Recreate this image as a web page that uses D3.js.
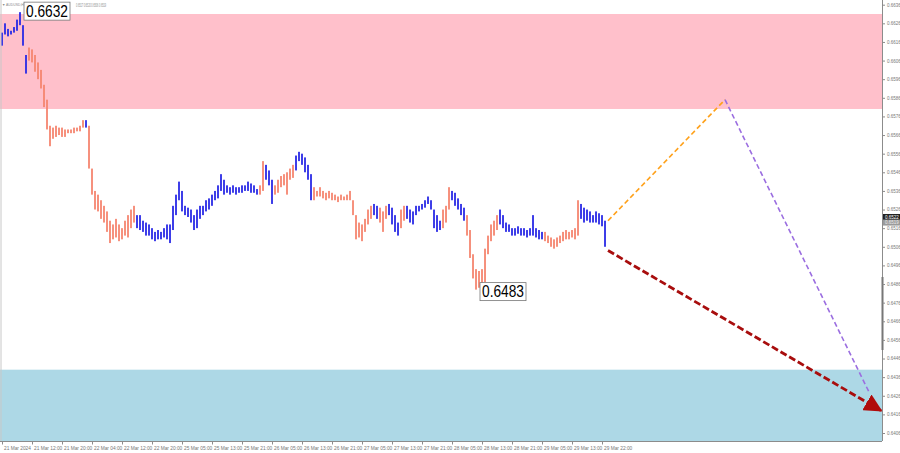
<!DOCTYPE html>
<html><head><meta charset="utf-8">
<script src="https://cdn.jsdelivr.net/npm/d3@7"></script>
<style>html,body{margin:0;padding:0;background:#fff;overflow:hidden}</style>
</head><body><svg id="c" width="900" height="453"></svg>
<script>
// ---- data ----
const symbolName = "AUDUSD,H1";
const headerPrices = "0.6517 0.6520 0.6506 0.6519";
const timeLabels = ["21 Mar 2024","21 Mar 12:00","21 Mar 20:00","22 Mar 04:00","22 Mar 12:00","22 Mar 20:00","25 Mar 05:00","25 Mar 13:00","25 Mar 21:00","26 Mar 05:00","26 Mar 13:00","26 Mar 21:00","27 Mar 05:00","27 Mar 13:00","27 Mar 21:00","28 Mar 05:00","28 Mar 13:00","28 Mar 21:00","29 Mar 05:00","29 Mar 13:00","29 Mar 22:00"];
const timeLabelIndex = [0,10,20,30,40,50,60,70,80,90,100,110,120,130,140,150,160,170,180,190,200];
const priceTicks = [0.6636,0.6626,0.6616,0.6606,0.6596,0.6586,0.6576,0.6566,0.6556,0.6546,0.6536,0.6526,0.6516,0.6506,0.6496,0.6486,0.6476,0.6466,0.6456,0.6446,0.6436,0.6426,0.6416,0.6406];
const highs = [0.6621,0.6626,0.6623,0.6622,0.6624,0.6628,0.6632,0.6625,0.6609,0.6613,
0.6612,0.6609,0.6605,0.6601,0.6593,0.6585,0.6571,0.6570,0.6571,0.6570,
0.6570,0.6569,0.6569,0.6569,0.6570,0.6570,0.6571,0.6574,0.6574,0.6571,
0.6548,0.6536,0.6534,0.6531,0.6528,0.6525,0.6520,0.6518,0.6521,0.6518,
0.6516,0.6520,0.6523,0.6526,0.6528,0.6523,0.6523,0.6520,0.6519,0.6518,
0.6516,0.6514,0.6515,0.6514,0.6516,0.6518,0.6518,0.6528,0.6534,0.6541,
0.6536,0.6528,0.6527,0.6526,0.6523,0.6526,0.6528,0.6528,0.6531,0.6532,
0.6534,0.6536,0.6539,0.6545,0.6542,0.6539,0.6538,0.6539,0.6538,0.6538,
0.6539,0.6539,0.6541,0.6540,0.6539,0.6537,0.6539,0.6552,0.6550,0.6547,
0.6542,0.6539,0.6542,0.6544,0.6545,0.6546,0.6548,0.6550,0.6555,0.6557,
0.6556,0.6554,0.6550,0.6545,0.6538,0.6536,0.6538,0.6536,0.6535,0.6536,
0.6535,0.6534,0.6533,0.6534,0.6533,0.6534,0.6536,0.6531,0.6523,0.6519,
0.6518,0.6521,0.6526,0.6528,0.6529,0.6528,0.6527,0.6525,0.6528,0.6529,
0.6527,0.6523,0.6519,0.6526,0.6528,0.6528,0.6526,0.6525,0.6528,0.6528,
0.6529,0.6531,0.6533,0.6531,0.6526,0.6523,0.6520,0.6526,0.6528,0.6538,
0.6536,0.6535,0.6532,0.6529,0.6527,0.6523,0.6515,0.6502,0.6494,0.6493,
0.6494,0.6505,0.6512,0.6518,0.6520,0.6523,0.6526,0.6523,0.6519,0.6518,
0.6516,0.6516,0.6517,0.6516,0.6516,0.6515,0.6516,0.6523,0.6516,0.6515,
0.6514,0.6514,0.6512,0.6511,0.6510,0.6511,0.6512,0.6514,0.6515,0.6514,
0.6515,0.6516,0.6531,0.6529,0.6527,0.6526,0.6525,0.6523,0.6525,0.6524,
0.6523,0.6520];
const lows = [0.6614,0.6620,0.6619,0.6620,0.6621,0.6622,0.6625,0.6614,0.6599,0.6606,
0.6605,0.6600,0.6596,0.6591,0.6581,0.6569,0.6560,0.6564,0.6565,0.6566,
0.6565,0.6565,0.6567,0.6567,0.6567,0.6568,0.6568,0.6570,0.6570,0.6548,
0.6534,0.6526,0.6525,0.6521,0.6519,0.6514,0.6508,0.6510,0.6511,0.6509,
0.6510,0.6512,0.6511,0.6516,0.6519,0.6516,0.6515,0.6514,0.6512,0.6512,
0.6510,0.6509,0.6510,0.6510,0.6511,0.6510,0.6508,0.6515,0.6523,0.6531,
0.6525,0.6523,0.6522,0.6519,0.6515,0.6516,0.6521,0.6523,0.6525,0.6526,
0.6528,0.6531,0.6532,0.6536,0.6534,0.6535,0.6534,0.6535,0.6534,0.6535,
0.6535,0.6536,0.6536,0.6535,0.6535,0.6534,0.6534,0.6536,0.6542,0.6539,
0.6529,0.6534,0.6535,0.6538,0.6539,0.6534,0.6542,0.6543,0.6547,0.6552,
0.6550,0.6546,0.6542,0.6531,0.6531,0.6533,0.6533,0.6532,0.6531,0.6532,
0.6531,0.6531,0.6530,0.6531,0.6531,0.6531,0.6531,0.6523,0.6510,0.6511,
0.6509,0.6514,0.6518,0.6521,0.6523,0.6521,0.6519,0.6514,0.6521,0.6523,
0.6518,0.6514,0.6512,0.6516,0.6520,0.6521,0.6519,0.6518,0.6523,0.6525,
0.6526,0.6527,0.6529,0.6526,0.6516,0.6514,0.6515,0.6516,0.6519,0.6526,
0.6531,0.6528,0.6526,0.6523,0.6520,0.6512,0.6500,0.6489,0.6483,0.6484,
0.6486,0.6487,0.6502,0.6509,0.6512,0.6515,0.6518,0.6516,0.6514,0.6514,
0.6512,0.6512,0.6513,0.6512,0.6512,0.6511,0.6512,0.6512,0.6511,0.6510,
0.6510,0.6509,0.6508,0.6506,0.6505,0.6506,0.6508,0.6509,0.6510,0.6510,
0.6511,0.6510,0.6512,0.6521,0.6519,0.6520,0.6519,0.6519,0.6519,0.6518,
0.6517,0.6506];
// wave colouring: start index of each run and its direction
const runStarts = [0,9,28,29,45,86,88,91,98,104,124,126,129,133,135,147,150,155,166,181,193];
const runDirs   = ["up","down","up","down","up","down","up","down","up","down","up","down","up","down","up","down","up","down","up","down","up"];
// zones
const sellZone = [0.6631, 0.6580];
const buyZone  = [0.6440, 0.6390];
// extremes labels
const extremes = [{i:6, p:0.6632, t:"0.6632"}, {i:158, p:0.6483, t:"0.6483"}];
// forecast paths [barIndex, price]
const orangePath = [[202,0.6520],[241,0.6585]];
const purplePath = [[241,0.6585],[289,0.6428]];
const redPath    = [[202,0.6504],[293,0.6418]];
const bidPrice = 0.6522, askPrice = 0.6519;

// ---- scales ----
const svg = d3.select("#c");
const axisX = 882, axisY = 441;
const x = d3.scaleLinear().domain([0, 293.33]).range([2, axisX]);
const y = d3.scaleLinear().domain([0.6636, 0.6406]).range([4.7, 433]);
const FONT = "Liberation Sans, Arial, sans-serif";

// zones
svg.append("rect").attr("x",0).attr("width",axisX).attr("y",y(sellZone[0])).attr("height",y(sellZone[1])-y(sellZone[0])).attr("fill","#ffc0cb");
svg.append("rect").attr("x",0).attr("width",axisX).attr("y",y(buyZone[0])).attr("height",axisY-y(buyZone[0])).attr("fill","#add8e6");

// header, split around the extreme label box
svg.append("text").attr("x",2).attr("y",6).attr("font-family",FONT).attr("font-size",3.4).attr("fill","#8a8a8a")
  .text("▼ " + symbolName);
svg.append("text").attr("x",76).attr("y",6.5).attr("font-family",FONT).attr("font-size",4.6).attr("fill","#8a8a8a")
  .attr("textLength",30).attr("lengthAdjust","spacingAndGlyphs").text(headerPrices);

// bars
const colorOf = i => { let d = runDirs[0]; for (let k=0;k<runStarts.length;k++) if (i>=runStarts[k]) d = runDirs[k]; return d==="up" ? "#2a2ae6" : "#f58670"; };
svg.append("g").selectAll("rect").data(highs).join("rect")
  .attr("x",(d,i)=>x(i)-0.9).attr("width",1.8)
  .attr("y",(d)=>y(d)).attr("height",(d,i)=>Math.max(1.5, y(lows[i])-y(d)))
  .attr("fill",(d,i)=>colorOf(i));

// forecast lines
const line = d3.line().x(d=>x(d[0])).y(d=>y(d[1]));
svg.append("path").attr("d",line(orangePath)).attr("stroke","#ffa11a").attr("stroke-width",1.6).attr("stroke-dasharray","5,3").attr("fill","none");
svg.append("path").attr("d",line(purplePath)).attr("stroke","#9b6ee0").attr("stroke-width",1.6).attr("stroke-dasharray","5,3").attr("fill","none");
const defs = svg.append("defs");
defs.append("marker").attr("id","ah").attr("viewBox","0 0 10 10").attr("refX",9).attr("refY",5)
  .attr("markerWidth",6.5).attr("markerHeight",6.5).attr("markerUnits","strokeWidth").attr("orient","auto")
  .append("path").attr("d","M0,0 L10,5 L0,10 Z").attr("fill","#b00b0b");
svg.append("path").attr("d",line(redPath)).attr("stroke","#a80d0d").attr("stroke-width",2.8).attr("stroke-dasharray","7,3").attr("fill","none").attr("marker-end","url(#ah)");

// extreme labels
extremes.forEach(e=>{
  const g = svg.append("g").attr("transform",`translate(${x(e.i)+4},${y(e.p)})`);
  const by = e.i < 50 ? -10 : -7;
  g.append("rect").attr("x",0).attr("y",by).attr("width",46).attr("height",18).attr("fill","#fff").attr("stroke","#777").attr("stroke-width",0.8);
  g.append("text").attr("x",2).attr("y",by+14.5).attr("font-family",FONT).attr("font-size",16.5)
    .attr("textLength",42).attr("lengthAdjust","spacingAndGlyphs").attr("fill","#000").text(e.t);
});

// axes
svg.append("line").attr("x1",axisX+0.5).attr("x2",axisX+0.5).attr("y1",0).attr("y2",axisY).attr("stroke","#8c8c8c");
svg.append("rect").attr("x",axisX-0.5).attr("width",2).attr("y",277).attr("height",73).attr("fill","#777");
svg.append("line").attr("x1",0).attr("x2",axisX).attr("y1",axisY+0.5).attr("y2",axisY+0.5).attr("stroke","#8c8c8c");
svg.append("line").attr("x1",1).attr("x2",1).attr("y1",0).attr("y2",axisY).attr("stroke","#c8c8c8");

const ra = svg.append("g").attr("transform",`translate(${axisX+0.5},0)`)
  .call(d3.axisRight(y).tickValues(priceTicks).tickSize(2.5).tickPadding(2).tickFormat(d3.format(".4f")));
ra.select(".domain").remove();
ra.selectAll("line").attr("stroke","#8c8c8c");
ra.selectAll("text").attr("font-family",FONT).attr("font-size",4.5).attr("fill","#777");

// bid / ask labels
[[bidPrice,"#222","#fff"],[askPrice,"#9a9a9a","#eee"]].forEach(([p,bg,fg])=>{
  svg.append("rect").attr("x",axisX+1).attr("y",y(p)-3).attr("width",17).attr("height",6).attr("fill",bg);
  svg.append("text").attr("x",axisX+3).attr("y",y(p)+1.7).attr("font-family",FONT).attr("font-size",4.5).attr("fill",fg).text(p.toFixed(4));
});

const ba = svg.append("g").attr("transform",`translate(0,${axisY+0.5})`)
  .call(d3.axisBottom(x).tickValues(timeLabelIndex).tickSize(3).tickPadding(1).tickFormat((d,i)=>timeLabels[i]));
ba.select(".domain").remove();
ba.selectAll("line").attr("stroke","#8c8c8c");
ba.selectAll("text").attr("text-anchor","start").attr("dx",1.5).attr("dy","0.9em")
  .attr("font-family",FONT).attr("font-size",4.8).attr("fill","#777");
</script></body></html>
